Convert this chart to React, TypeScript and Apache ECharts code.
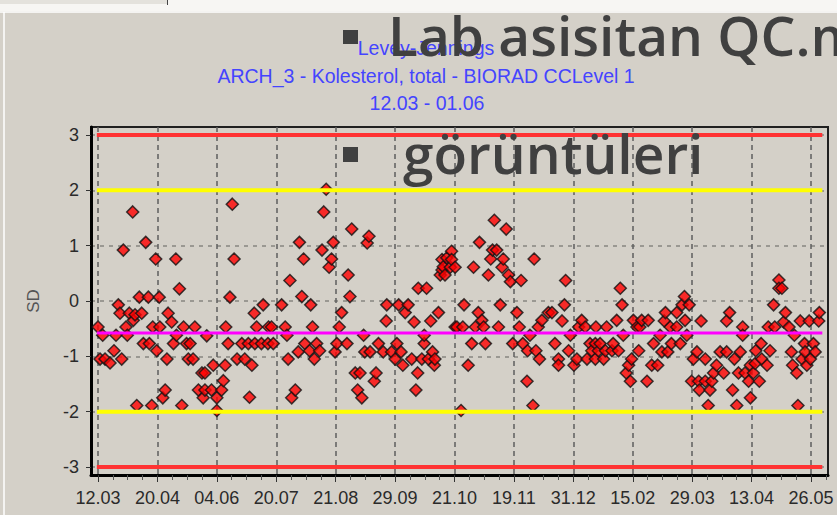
import { useEffect, useRef } from "react";
import * as echarts from "echarts";

// Tick labels
const dateLabels = ["12.03", "20.04", "04.06", "20.07", "21.08", "29.09", "21.10", "19.11", "31.12", "15.02", "29.03", "13.04", "26.05"];
const sdTicks = [-3, -2, -1, 0, 1, 2, 3];

// Control limits (SD units)
const meanSD = -0.58;
const warningSD = 2;
const actionSD = 3;
const limitSpan = [-0.2, 121.9]; // run positions where the limit lines start / end

// Runs: [position on run axis (10 per labelled date interval), SD value]
const runsMarToJun: number[][] = [
  [0, -0.47], [0.34, -1.05], [0.79, -0.62], [1.18, -1.05], [2.02, -1.12], [2.69, -0.9], [3.03, -0.62], [3.42, -0.07],
  [3.7, -0.22], [3.99, -1.05], [4.26, 0.92], [4.71, -0.47], [4.93, -0.62], [5.27, -0.22], [5.84, 1.61], [5.94, -0.35],
  [6.23, -0.25], [6.52, -1.89], [6.95, 0.07], [7.36, -0.22], [7.63, -0.77], [8.03, 1.06], [8.47, 0.07], [8.64, -0.77],
  [9.04, -1.89], [9.21, -0.47], [9.71, 0.76], [9.88, -0.9], [10.3, 0.07], [10.4, -0.47], [10.9, -1.75], [11.3, -1.61],
  [11.6, -1.05], [11.8, -0.22], [12.4, -0.38], [12.7, -0.77], [13.1, 0.76], [13.2, -0.62], [13.7, 0.22], [14.1, -1.89],
  [14.4, -0.47], [14.9, -0.77], [15.2, -1.05], [15.5, -0.77], [16.0, -1.05], [16.3, -0.47], [16.9, -1.61], [17.5, -1.3],
  [17.7, -1.75], [18.0, -1.3], [18.0, -1.61], [18.3, -0.63], [19.1, -1.61], [19.4, -1.16], [20.0, -1.75], [20.0, -1.98],
  [20.8, -1.61], [21.1, -1.44], [21.4, -1.16], [21.5, -0.47], [21.9, -0.77], [22.2, 0.07], [22.6, 1.75], [22.9, 0.76],
  [23.4, -1.05], [24.2, -0.77], [24.7, -1.05], [25.3, -0.77], [25.5, -1.74], [25.9, -1.16], [26.3, -0.22], [26.4, -0.77],
  [26.7, -0.47], [27.5, -0.77], [27.8, -0.07], [28.6, -0.77], [28.7, -0.47], [29.2, -0.47], [29.5, -0.77],
];

const runsJunToNov: number[][] = [
  [30.9, -0.07], [31.5, -0.47], [31.8, -0.62], [32.0, -1.05], [32.3, 0.37], [32.6, -1.75], [33.2, -1.61], [33.7, -0.92],
  [33.9, 1.06], [34.3, 0.08], [34.6, 0.76], [34.8, -0.77], [35.6, -0.9], [35.8, -0.07], [36.1, -0.47], [36.4, -1.05],
  [36.8, -0.77], [37.3, -0.9], [37.7, 0.92], [38.0, 1.61], [38.4, 2.02], [38.9, 0.61], [39.3, 0.76], [39.6, 1.06],
  [39.9, -0.92], [40.2, -0.77], [40.6, -0.47], [41.0, -0.21], [41.9, -0.77], [42.1, 0.47], [42.4, 0.08], [42.7, 1.3],
  [43.3, -1.3], [43.7, -1.61], [44.1, -1.3], [44.4, -1.75], [44.7, -0.62], [44.9, -0.92], [45.3, 1.05], [45.6, 1.17],
  [45.8, -0.92], [46.5, -1.45], [46.8, -1.3], [47.2, -0.77], [48.0, -0.92], [48.5, -0.36], [48.6, -0.07], [49.4, -0.92],
  [50.0, -1.05], [50.3, -0.77], [50.6, -0.07], [51.0, -0.92], [51.3, -1.16], [51.7, -0.21], [52.2, -0.07], [52.8, -1.05],
  [53.2, -0.38], [53.5, -1.61], [53.8, -1.3], [53.9, 0.23], [54.5, -1.05], [54.9, -0.77], [54.9, -0.62], [55.3, 0.23],
  [55.6, -1.05], [56.0, -0.36], [56.3, -0.92], [56.6, -1.16], [56.7, -1.05], [57.3, -0.21], [57.6, 0.47], [57.9, 0.75],
  [57.9, 0.56], [58.1, 0.62], [58.4, 0.47], [58.7, 0.78], [59.3, 0.61], [59.5, 0.9], [59.5, 0.75],
];

const runsNovToMar: number[][] = [
  [60.1, 0.61], [60.1, -0.47], [60.4, -0.47], [61.1, -1.98], [61.4, -0.47], [61.6, -0.07], [62.3, -1.16], [62.9, -0.77],
  [63.2, 0.61], [63.5, -0.47], [64.0, -0.21], [64.2, 1.06], [64.6, -0.35], [64.9, -0.47], [65.2, -0.77], [65.7, 0.47],
  [66.1, 0.76], [66.4, 0.92], [66.7, 1.46], [67.1, 0.92], [67.4, -0.47], [67.7, -0.07], [68.0, 0.61], [68.2, 0.76],
  [68.7, 1.3], [69.1, 0.47], [69.4, 0.35], [69.8, -0.77], [70.5, -0.21], [70.9, -0.47], [71.2, 0.37], [71.5, -0.77],
  [72.2, -1.45], [72.3, -0.9], [72.7, -0.62], [73.2, -1.89], [73.4, 0.76], [73.7, -0.9], [74.1, -0.47], [74.3, -1.05],
  [74.7, -0.35], [75.8, -0.21], [76.4, -0.21], [76.9, -0.77], [77.5, -1.05], [77.5, -1.16], [78.1, -0.36], [78.5, -0.07],
  [78.7, 0.37], [79.2, -0.9], [79.5, -0.62], [80.1, -1.16], [80.6, -1.05], [80.9, -0.47], [81.4, -0.35], [82.0, -0.47],
  [82.3, -1.05], [82.8, -0.77], [83.1, -0.9], [83.7, -0.77], [83.7, -1.05], [83.8, -0.47], [84.2, -0.9], [84.5, -0.77],
  [85.1, -1.05], [85.4, -0.9], [85.6, -0.47], [86.5, -0.9], [86.7, -0.77], [87.3, -0.35], [87.6, -0.9], [87.9, 0.23],
  [88.2, -0.07], [88.4, -0.62], [88.9, -1.3], [89.3, -1.16], [89.6, -1.45], [89.8, -1.05],
];

const runsMarToMay: number[][] = [
  [90.1, -0.35], [90.7, -0.47], [91.0, -0.9], [91.2, -0.47], [91.5, -0.35], [92.4, -1.45], [92.6, -0.35], [93.2, -1.16],
  [93.5, -0.77], [94.2, -1.16], [94.6, -0.62], [94.9, -0.92], [95.3, -0.36], [95.5, -0.21], [95.9, -0.92], [96.3, -0.47],
  [96.5, -0.77], [97.4, -0.47], [97.4, -0.21], [98.0, -0.77], [98.3, -0.07], [98.7, 0.08], [98.8, -0.35], [99.1, -0.62],
  [99.5, -0.07], [99.9, -1.45], [100.2, -1.05], [100.8, -0.92], [101.1, -1.45], [101.2, -1.61], [101.5, -0.36], [102.2, -1.05],
  [102.2, -1.45], [102.7, -1.89], [103.0, -1.61], [103.3, -1.45], [103.6, -1.3], [104.1, -1.16], [104.7, -0.92], [105.3, -1.3],
  [105.8, -0.92], [105.8, -0.36], [106.3, -0.21], [106.8, -1.61], [107.1, -1.05], [107.5, -1.89], [107.8, -1.3], [108.1, -0.92],
  [108.5, -0.47], [108.5, -0.62], [108.9, -1.3], [109.5, -1.45], [109.8, -1.75], [109.8, -1.16], [110.3, -1.3], [110.6, -1.13],
  [110.7, -0.9], [111.3, -1.45], [111.6, -0.77], [111.7, -1.05], [112.6, -1.16], [112.8, -0.47], [113.1, -0.9], [113.7, -0.07],
  [113.9, -0.47], [114.6, 0.38], [114.6, 0.23], [115.1, 0.23], [115.4, -0.38], [115.7, -0.21], [116.3, -0.47], [116.7, -0.92],
  [116.9, -1.16], [117.2, -0.62], [117.6, -1.3], [117.8, -1.89], [118.2, -0.36], [118.5, -1.05], [118.9, -0.77], [119.0, -0.92],
  [119.3, -1.16], [119.7, -0.36], [119.9, -1.05], [120.4, -0.77], [120.7, -0.92], [121.3, -0.36], [121.4, -0.21],
];

const titleLines = ["Levey-Jennings", "ARCH_3 - Kolesterol, total - BIORAD CCLevel 1", "12.03 - 01.06"];
const slideLines = ["Lab asisitan QC.m", "görüntüleri"];

export default function App() {
  const ref = useRef<HTMLDivElement>(null);

  useEffect(() => {
    if (!ref.current) return;
    const chart = echarts.init(ref.current, undefined, { renderer: "svg" });

    const majorX = dateLabels.map((_, i) => i * 10);
    const minorX: number[] = [];
    for (let i = 0; i <= 12; i++) {
      for (const f of [2.5, 5, 7.5]) {
        const v = i * 10 + f;
        if (v < 122.8) minorX.push(v);
      }
    }
    const allRuns = [...runsMarToJun, ...runsJunToNov, ...runsNovToMar, ...runsMarToMay];

    const limitLine = (v: number, color: string, width: number) => ({
      type: "line",
      data: [[limitSpan[0], v], [limitSpan[1], v]],
      symbol: "none",
      silent: true,
      z: 5,
      lineStyle: { color, width },
    });

    const labelFont = { fontFamily: "Liberation Sans", fontSize: 18, color: "#2a2a2a" };
    const titleStyle = { fill: "#4444ff", fontFamily: "Liberation Sans", fontSize: 19.5, align: "center", verticalAlign: "middle" };
    const slideStyle = { fill: "#404040", fontFamily: "Open Sans", fontWeight: 600, fontSize: 55, align: "left", verticalAlign: "middle" };

    chart.setOption({
      animation: false,
      backgroundColor: "#d4d0c8",
      grid: {
        left: 91, top: 127, right: 9, bottom: 40,
        show: true, borderColor: "#202020", borderWidth: 2, backgroundColor: "transparent",
      },
      xAxis: [
        {
          type: "value",
          min: -1.18,
          max: 122.86,
          axisLine: { show: true, onZero: false, lineStyle: { color: "#000", width: 3 } },
          axisTick: { show: true, customValues: majorX, length: 7, lineStyle: { color: "#333", width: 1 } },
          axisLabel: {
            ...labelFont,
            customValues: majorX,
            margin: 14,
            formatter: (v: number) => dateLabels[Math.round(v / 10)] ?? "",
          },
          splitLine: { show: true, lineStyle: { color: "#5e5e5e", width: 1.5, type: [5, 4] } },
        },
        {
          type: "value",
          min: -1.18,
          max: 122.86,
          position: "bottom",
          axisLine: { show: false, onZero: false },
          axisTick: { show: true, customValues: minorX, length: 5, lineStyle: { color: "#555", width: 1 } },
          axisLabel: { show: false },
          splitLine: { show: false },
        },
      ],
      yAxis: {
        type: "value",
        min: -3.145,
        max: 3.145,
        name: "SD",
        nameLocation: "middle",
        nameGap: 49,
        nameRotate: 90,
        nameTextStyle: { fontFamily: "Liberation Sans", fontSize: 17, color: "#555" },
        axisLine: { show: true, onZero: false, lineStyle: { color: "#000", width: 3 } },
        axisTick: { show: true, customValues: sdTicks, length: 5, lineStyle: { color: "#333" } },
        axisLabel: { ...labelFont, customValues: sdTicks, margin: 12 },
        splitLine: { show: true, lineStyle: { color: "#9a9892", width: 2, type: [4, 5] } },
      },
      series: [
        {
          type: "scatter",
          data: allRuns,
          symbol: "diamond",
          symbolSize: 12,
          z: 3,
          itemStyle: { color: "#ff0000", borderColor: "#111111", borderWidth: 1.5 },
        },
        limitLine(actionSD, "#ff3333", 4),
        limitLine(-actionSD, "#ff3333", 4),
        limitLine(warningSD, "#ffff00", 4),
        limitLine(-warningSD, "#ffff00", 4),
        limitLine(meanSD, "#ff00ff", 3),
      ],
      graphic: [
        { type: "rect", z: 1, shape: { x: 0, y: 0, width: 837, height: 11 }, style: { fill: "#f7f6f3" } },
        { type: "rect", z: 1, shape: { x: 0, y: 0, width: 167, height: 4 }, style: { fill: "#e4e2dc" } },
        { type: "line", z: 2, shape: { x1: 167.5, y1: 0, x2: 167.5, y2: 5 }, style: { stroke: "#444", lineWidth: 1 } },
        { type: "line", z: 2, shape: { x1: 0, y1: 12, x2: 837, y2: 12 }, style: { stroke: "#ffffff", lineWidth: 1.5 } },
        { type: "line", z: 2, shape: { x1: 4, y1: 12, x2: 4, y2: 515 }, style: { stroke: "#ffffff", lineWidth: 1.5 } },
        { type: "text", z: 10, x: 426, y: 48, style: { ...titleStyle, text: titleLines[0] } },
        { type: "text", z: 10, x: 426, y: 75.5, style: { ...titleStyle, text: titleLines[1] } },
        { type: "text", z: 10, x: 427, y: 103, style: { ...titleStyle, text: titleLines[2] } },
        { type: "rect", z: 100, shape: { x: 343, y: 30, width: 15, height: 14 }, style: { fill: "#404040" } },
        { type: "rect", z: 100, shape: { x: 343, y: 147, width: 15, height: 15 }, style: { fill: "#404040" } },
        { type: "text", z: 100, x: 388, y: 34, style: { ...slideStyle, text: slideLines[0] } },
        { type: "text", z: 100, x: 403, y: 152, style: { ...slideStyle, text: slideLines[1] } },
      ],
    });

    return () => chart.dispose();
  }, []);

  return <div ref={ref} style={{ position: "fixed", left: 0, top: 0, width: 837, height: 515 }} />;
}
